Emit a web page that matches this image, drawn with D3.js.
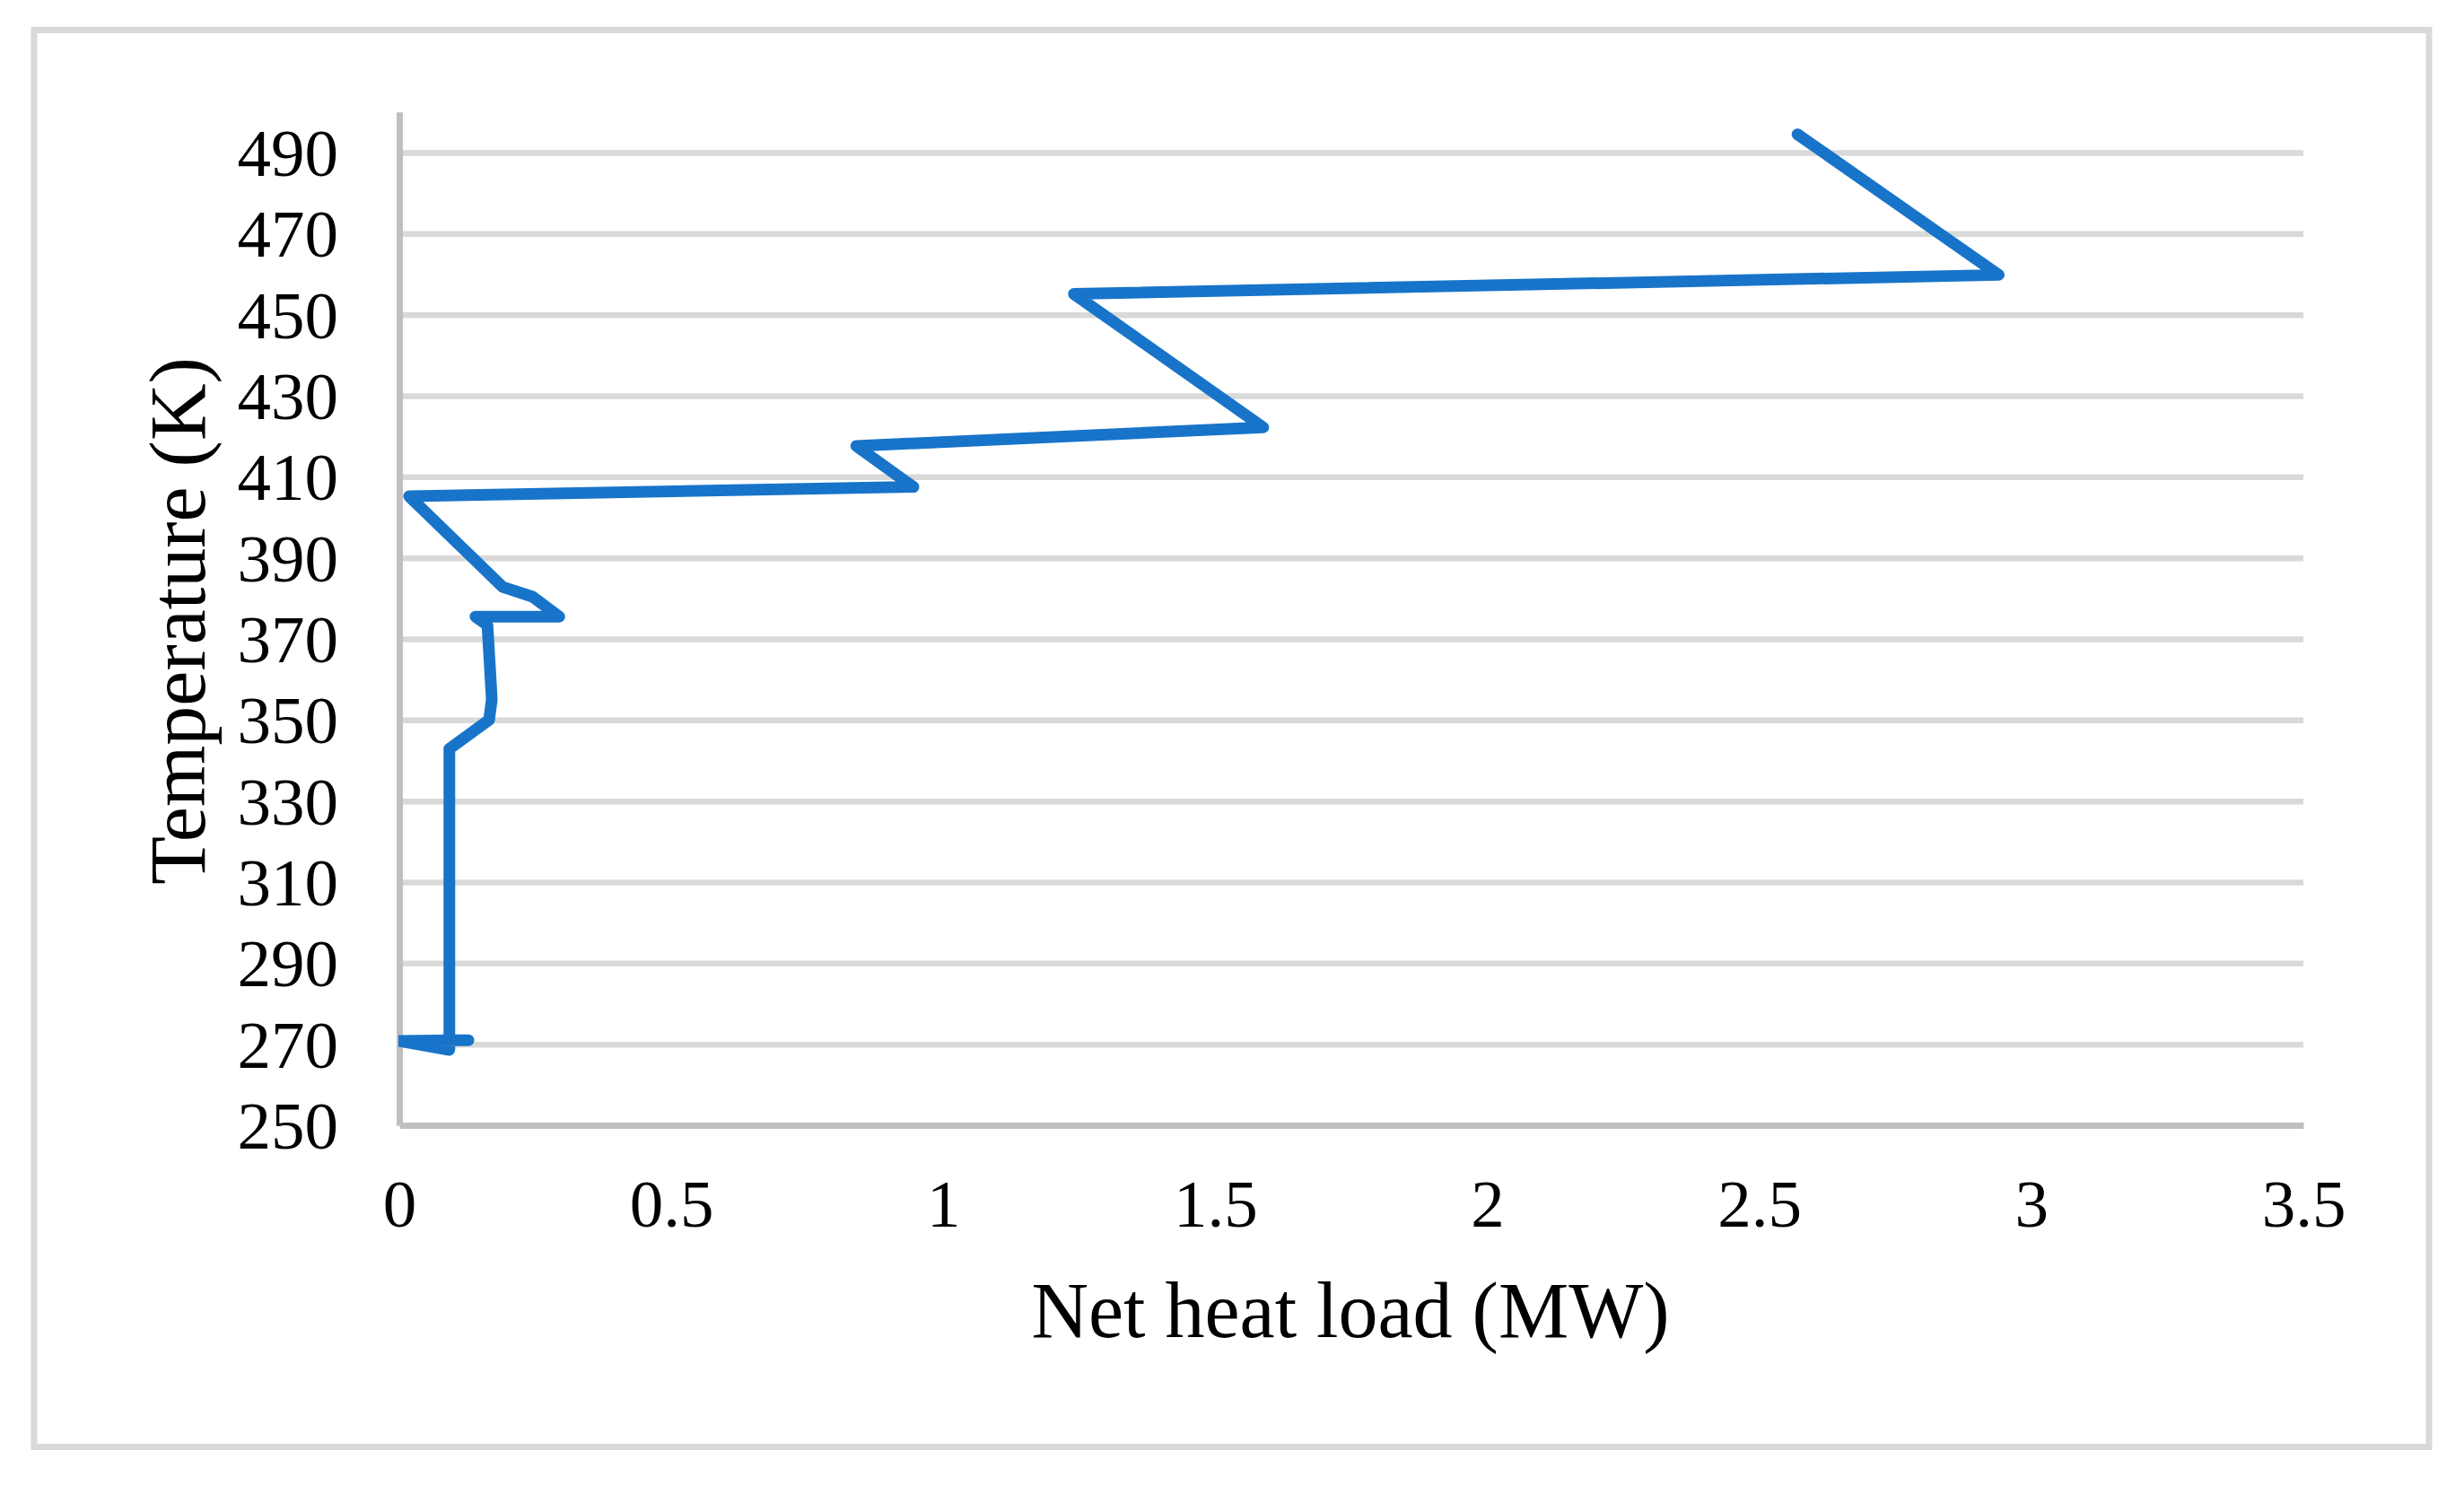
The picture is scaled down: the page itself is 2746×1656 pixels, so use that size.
<!DOCTYPE html>
<html>
<head>
<meta charset="utf-8">
<script src="https://cdn.jsdelivr.net/npm/d3@7/dist/d3.min.js"></script>
<style>
  html, body { margin: 0; padding: 0; background: #ffffff; }
  svg { display: block; }
  text { font-family: "Liberation Serif", "Times New Roman", serif; fill: #000; }
</style>
</head>
<body>
<svg id="chart" width="2746" height="1656"></svg>
<script>
// Net heat load (MW) vs Temperature (K)
const heatLoad = [2.57, 2.94, 1.24, 1.588, 0.840, 0.945, 0.018, 0.190, 0.245, 0.294, 0.140, 0.162, 0.167, 0.170, 0.165, 0.092, 0.092, 0.0, 0.127];
const temperature = [494.5, 459.8, 455.1, 422.2, 417.6, 407.5, 405.2, 382.8, 380.4, 375.5, 375.5, 373.4, 362.0, 355.0, 350.0, 342.9, 268.6, 270.8, 271.0];
const xTicks = [0, 0.5, 1, 1.5, 2, 2.5, 3, 3.5];
const xTickLabels = ["0", "0.5", "1", "1.5", "2", "2.5", "3", "3.5"];
const yTicks = [250, 270, 290, 310, 330, 350, 370, 390, 410, 430, 450, 470, 490];
const xTitle = "Net heat load (MW)";
const yTitle = "Temperature (K)";

const svg = d3.select("#chart");

// outer frame
svg.append("rect")
  .attr("x", 38).attr("y", 33.5).attr("width", 2669).attr("height", 1579)
  .attr("fill", "#fff").attr("stroke", "#d9d9d9").attr("stroke-width", 7);

const x = d3.scaleLinear().domain([0, 3.5]).range([445, 2567]);
const y = d3.scaleLinear().domain([250, 500]).range([1254, 124.8]);

// gridlines
const grid = d3.axisLeft(y).tickValues(yTicks.slice(1)).tickSize(-(2567 - 445)).tickFormat("");
svg.append("g").attr("transform", "translate(445,0)").call(grid)
  .call(g => g.select(".domain").remove())
  .call(g => g.selectAll("line").attr("stroke", "#d9d9d9").attr("stroke-width", 6.5));

// y axis line + labels
const yAxis = d3.axisLeft(y).tickValues(yTicks).tickSize(0).tickPadding(68).tickFormat(d3.format("d"));
svg.append("g").attr("transform", "translate(445,0)").call(yAxis)
  .call(g => g.select(".domain").attr("stroke", "#bfbfbf").attr("stroke-width", 7))
  .call(g => g.selectAll("text")
    .style("font-family", '"Liberation Serif", "Times New Roman", serif')
    .style("font-size", "75px").attr("fill", "#000").attr("dy", "0.34em"));

// x axis line + labels
const xAxis = d3.axisBottom(x).tickValues(xTicks).tickSize(0).tickPadding(0)
  .tickFormat((d, i) => xTickLabels[i]);
svg.append("g").attr("transform", "translate(0,1254)").call(xAxis)
  .call(g => g.select(".domain").attr("stroke", "#bfbfbf").attr("stroke-width", 7))
  .call(g => g.selectAll("text")
    .style("font-family", '"Liberation Serif", "Times New Roman", serif')
    .style("font-size", "75px").attr("fill", "#000")
    .attr("y", 113).attr("dy", 0));

// clip to plot area
svg.append("clipPath").attr("id", "plotclip")
  .append("rect").attr("x", 444).attr("y", 60).attr("width", 2200).attr("height", 1194);

const pts = heatLoad.map((v, i) => [v, temperature[i]]);
const line = d3.line().x(d => x(d[0])).y(d => y(d[1]));
svg.append("path")
  .datum(pts)
  .attr("d", line)
  .attr("clip-path", "url(#plotclip)")
  .attr("fill", "none")
  .attr("stroke", "#1874c9")
  .attr("stroke-width", 13)
  .attr("stroke-linejoin", "round")
  .attr("stroke-linecap", "round");

// axis titles
svg.append("text")
  .attr("x", 1505).attr("y", 1490)
  .attr("text-anchor", "middle")
  .style("font-size", "88px")
  .text(xTitle);

svg.append("text")
  .attr("transform", "translate(228,692) rotate(-90)")
  .attr("text-anchor", "middle")
  .style("font-size", "88px")
  .text(yTitle);
</script>
</body>
</html>
